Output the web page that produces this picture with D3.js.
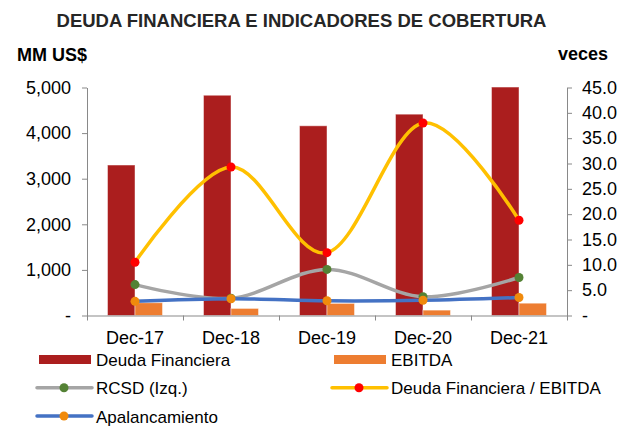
<!DOCTYPE html>
<html>
<head>
<meta charset="utf-8">
<script src="https://cdn.jsdelivr.net/npm/d3@7"></script>
<style>
  body{margin:0;background:#fff;}
  svg{font-family:"Liberation Sans",Arial,sans-serif;}
  .axis path,.axis line{stroke:#898989;}
  .axis text{font-size:18px;fill:#000;}
</style>
</head>
<body>
<svg id="chart"></svg>
<script>
// data
var years = ["Dec-17","Dec-18","Dec-19","Dec-20","Dec-21"];
var deuda = [3300,4830,4160,4415,5010];
var ebitda = [280,155,265,118,270];
var rcsd = [6.1,3.4,9.1,3.7,7.5];
var deudaEbitda = [10.5,29.3,12.4,38.0,18.8];
var apalanc = [2.8,3.3,2.9,3.0,3.55];
var leftTicks = [0,1000,2000,3000,4000,5000];
var rightTicks = [0,5,10,15,20,25,30,35,40,45];

var width = 628, height = 426;
var margin = {top:87.5,bot:110.5,left:87,right:61};

var svg = d3.select("#chart")
            .attr("width",width)
            .attr("height",height);

var x = d3.scaleBand()
          .domain(years)
          .range([margin.left,width-margin.right]);
var xEdge = d3.scaleLinear()
              .domain([0,years.length])
              .range([margin.left,width-margin.right]);
var yL = d3.scaleLinear()
           .domain([0,5000])
           .range([height-margin.bot,margin.top]);
var yR = d3.scaleLinear()
           .domain([0,45])
           .range([height-margin.bot,margin.top]);

var barW = 27.5;

// bars
svg.append("g").selectAll("rect.deuda")
   .data(deuda)
   .enter()
   .append("rect")
   .attr("x",function(d,i){return x(years[i])+x.bandwidth()/2-barW;})
   .attr("y",function(d){return yL(d);})
   .attr("width",barW)
   .attr("height",function(d){return yL(0)-yL(d);})
   .attr("fill","#AB1E1E")
   .attr("stroke","rgba(255,255,255,0.45)")
   .attr("stroke-width",1);

svg.append("g").selectAll("rect.ebitda")
   .data(ebitda)
   .enter()
   .append("rect")
   .attr("x",function(d,i){return x(years[i])+x.bandwidth()/2;})
   .attr("y",function(d){return yL(d);})
   .attr("width",barW)
   .attr("height",function(d){return yL(0)-yL(d);})
   .attr("fill","#ED7D31")
   .attr("stroke","rgba(255,255,255,0.45)")
   .attr("stroke-width",1);

// axes
svg.append("g")
   .attr("class","axis")
   .attr("transform","translate("+margin.left+",0)")
   .call(d3.axisLeft(yL).tickValues(leftTicks).tickSize(5).tickSizeOuter(0).tickPadding(11)
           .tickFormat(function(d){return d===0?"-":d3.format(",")(d);}));

svg.append("g")
   .attr("class","axis")
   .attr("transform","translate("+(width-margin.right)+",0)")
   .call(d3.axisRight(yR).tickValues(rightTicks).tickSize(5).tickSizeOuter(0).tickPadding(10)
           .tickFormat(function(d){return d===0?"-":d3.format(".1f")(d);}));

svg.append("g")
   .attr("class","axis")
   .attr("transform","translate(0,"+yL(0)+")")
   .call(d3.axisBottom(xEdge).tickValues(d3.range(years.length+1)).tickSize(5).tickSizeOuter(0).tickFormat(""));

var xLab = svg.append("g")
   .attr("class","axis")
   .attr("transform","translate(0,"+yL(0)+")")
   .call(d3.axisBottom(x).tickSize(0).tickPadding(16));
xLab.select(".domain").remove();

// lines
var series = [
  {name:"RCSD (Izq.)",values:rcsd,line:"#A5A5A5",dot:"#548235",w:3.5},
  {name:"Deuda Financiera / EBITDA",values:deudaEbitda,line:"#FFC000",dot:"#FF0000",w:3.5},
  {name:"Apalancamiento",values:apalanc,line:"#4472C4",dot:"#F08A0C",w:3.5}
];

var lineMaker = d3.line()
                  .x(function(d,i){return x(years[i])+x.bandwidth()/2;})
                  .y(function(d){return yR(d);})
                  .curve(d3.curveCatmullRom.alpha(0));

series.forEach(function(s){
  svg.append("path")
     .attr("d",lineMaker(s.values))
     .attr("fill","none")
     .attr("stroke",s.line)
     .attr("stroke-width",s.w)
     .attr("stroke-linecap","round");
  svg.append("g").selectAll("circle")
     .data(s.values)
     .enter()
     .append("circle")
     .attr("cx",function(d,i){return x(years[i])+x.bandwidth()/2;})
     .attr("cy",function(d){return yR(d);})
     .attr("r",4.5)
     .attr("fill",s.dot);
});

// titles
svg.append("text")
   .attr("x",301.5).attr("y",27)
   .attr("text-anchor","middle")
   .style("font-size","18.5px").style("font-weight","bold").attr("fill","#262626")
   .text("DEUDA FINANCIERA E INDICADORES DE COBERTURA");
svg.append("text")
   .attr("x",17).attr("y",61)
   .style("font-size","18px").style("font-weight","bold").attr("fill","#000")
   .text("MM US$");
svg.append("text")
   .attr("x",558).attr("y",60)
   .style("font-size","18px").style("font-weight","bold").attr("fill","#000")
   .text("veces");

// legend
var legendItems = [
  {name:"Deuda Financiera",type:"bar",color:"#AB1E1E",col:0,row:0},
  {name:"EBITDA",type:"bar",color:"#ED7D31",col:1,row:0},
  {name:series[0].name,type:"line",color:series[0].line,dot:series[0].dot,col:0,row:1},
  {name:series[1].name,type:"line",color:series[1].line,dot:series[1].dot,col:1,row:1},
  {name:series[2].name,type:"line",color:series[2].line,dot:series[2].dot,col:0,row:2}
];
var colX = [37,332];
var rowY = [359.5,387.7,416];

var lg = svg.append("g").selectAll("g")
   .data(legendItems)
   .enter()
   .append("g")
   .attr("transform",function(d){return "translate("+colX[d.col]+","+rowY[d.row]+")";});

lg.filter(function(d){return d.type==="bar";})
  .append("rect")
  .attr("x",2).attr("y",-4.5)
  .attr("width",52).attr("height",9)
  .attr("fill",function(d){return d.color;});

lg.filter(function(d){return d.type==="line";})
  .append("line")
  .attr("x1",0).attr("x2",55).attr("y1",0).attr("y2",0)
  .attr("stroke",function(d){return d.color;})
  .attr("stroke-width",3.5)
  .attr("stroke-linecap","round");

lg.filter(function(d){return d.type==="line";})
  .append("circle")
  .attr("cx",27).attr("cy",0).attr("r",4.5)
  .attr("fill",function(d){return d.dot;});

lg.append("text")
  .attr("x",59).attr("y",6.5)
  .style("font-size","17px")
  .attr("fill","#000")
  .text(function(d){return d.name;});
</script>
</body>
</html>
